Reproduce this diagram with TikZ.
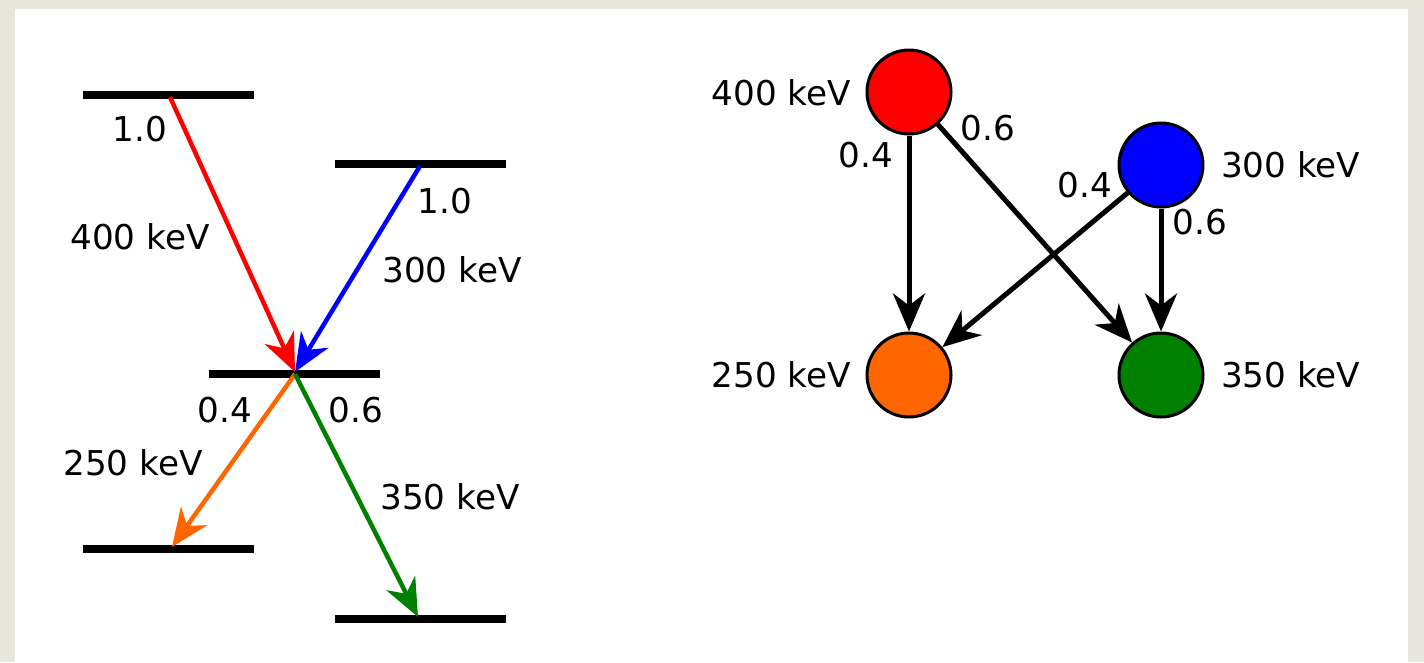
\documentclass[tikz,border=0pt]{standalone}
\usepackage{fontspec}
\setmainfont{DejaVu Sans}
\usetikzlibrary{arrows.meta}
\definecolor{parch}{HTML}{E9E7DB}
\definecolor{myred}{HTML}{FF0000}
\definecolor{myblue}{HTML}{0000FF}
\definecolor{myorange}{HTML}{FF6600}
\definecolor{mygreen}{HTML}{008000}
\tikzset{
  level/.style={line width=8pt},
  trans/.style={line width=4.5pt, -{Stealth[length=38pt,width=32pt,inset=12pt]}},
  flow/.style={line width=5pt, -{Stealth[length=38pt,width=32pt,inset=12pt]}},
  lbl/.style={inner sep=0pt, font=\fontsize{34.2}{40}\selectfont},
  state/.style={circle, draw, line width=3pt, minimum size=84pt, inner sep=0pt},
}
\begin{document}
\begin{tikzpicture}[x=1pt,y=-1pt]
\useasboundingbox (0,0) rectangle (1424,662);
\fill[parch] (0,0) rectangle (1424,662);
\fill[white] (15,9) rectangle (1408,662);
% level lines
\coordinate (A1) at (83,95);  \coordinate (A2) at (254,95);
\coordinate (B1) at (335,164); \coordinate (B2) at (506,164);
\coordinate (M1) at (209,374); \coordinate (M2) at (380,374);
\coordinate (C1) at (83,549); \coordinate (C2) at (254,549);
\coordinate (D1) at (335,619); \coordinate (D2) at (506,619);
\draw[level] (A1) -- (A2);
\draw[level] (B1) -- (B2);
\draw[level] (M1) -- (M2);
\draw[level] (C1) -- (C2);
\draw[level] (D1) -- (D2);
% transition endpoints
\coordinate (ra) at (170,97);
\coordinate (ba) at (420,166);
\coordinate (mt) at (295,372);
\coordinate (mb) at (295,374);
\coordinate (oe) at (172,547);
\coordinate (ge) at (418,617);
\draw[trans, myred] (ra) -- (mt);
\draw[trans, myblue] (ba) -- (mt);
\draw[trans, myorange] (mb) -- (oe);
\draw[trans, mygreen] (mb) -- (ge);
% left labels
\node[lbl] (l1) at (140,129) {1.0};
\node[lbl] (l2) at (140,237) {400 keV};
\node[lbl] (l3) at (445,201) {1.0};
\node[lbl] (l4) at (452,270) {300 keV};
\node[lbl] (l5) at (225,410) {0.4};
\node[lbl] (l6) at (356,410) {0.6};
\node[lbl] (l7) at (133,463) {250 keV};
\node[lbl] (l8) at (450,497) {350 keV};
% right diagram
\node[state, fill=myred] (r) at (909,92) {};
\node[state, fill=myblue] (b) at (1161,165) {};
\node[state, fill=myorange] (o) at (909,375) {};
\node[state, fill=mygreen] (g) at (1161,375) {};
\draw[flow] (r) -- (o);
\draw[flow] (r) -- (g);
\draw[flow] (b) -- (o);
\draw[flow] (b) -- (g);
\node[lbl, anchor=east] (t1) at (851,93) {400 keV};
\node[lbl, anchor=west] (t2) at (1221,165) {300 keV};
\node[lbl, anchor=east] (t3) at (851,375) {250 keV};
\node[lbl, anchor=west] (t4) at (1221,375) {350 keV};
\node[lbl] (e1) at (866,155) {0.4};
\node[lbl] (e2) at (988,128) {0.6};
\node[lbl] (e3) at (1085,185) {0.4};
\node[lbl] (e4) at (1200,222) {0.6};
\end{tikzpicture}
\end{document}
